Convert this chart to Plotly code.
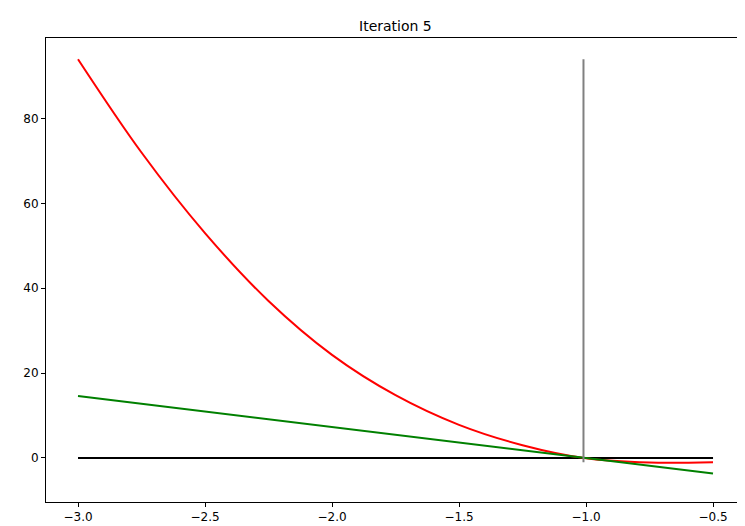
import plotly.graph_objects as go

curve_x = [-3, -2.75, -2.5, -2.25, -2, -1.75, -1.5, -1.25, -1, -0.75, -0.5]
curve_y = [94, 72, 53, 37, 24.3, 14.8, 7.8, 3.0, -0.1, -1.1, -1.0]
tangent_x = [-3, -0.5]
tangent_y = [14.6, -3.7]
axis_x = [-3, -0.5]
axis_y = [0, 0]
root_x = [-1.01, -1.01]
root_y = [-1, 94]

fig = go.Figure()
fig.add_trace(go.Scatter(x=axis_x, y=axis_y, mode="lines", line=dict(color="black", width=2)))
fig.add_trace(go.Scatter(x=curve_x, y=curve_y, mode="lines", line=dict(color="red", width=2, shape="spline", smoothing=1.0)))
fig.add_trace(go.Scatter(x=tangent_x, y=tangent_y, mode="lines", line=dict(color="green", width=2)))
fig.add_trace(go.Scatter(x=root_x, y=root_y, mode="lines", line=dict(color="gray", width=2)))

ax = dict(showgrid=False, zeroline=False, showline=True, linecolor="black", mirror=True, automargin=False,
          ticks="outside", ticklen=4, tickcolor="black", tickfont=dict(size=12, color="black"))
fig.update_layout(
    width=745, height=526, showlegend=False, plot_bgcolor="white", paper_bgcolor="white",
    font=dict(family="DejaVu Sans"),
    title=dict(text="Iteration 5", x=0.52, y=0.965, xanchor="center", yanchor="middle",
               font=dict(size=14, color="black"), automargin=False),
    margin=dict(l=38, r=10, t=30, b=32),
    xaxis=dict(range=[-3.126, -0.382], tickvals=[-3, -2.5, -2, -1.5, -1, -0.5],
               ticktext=["−3.0", "−2.5", "−2.0", "−1.5", "−1.0", "−0.5"], **ax),
    yaxis=dict(range=[-10.4, 99], tickvals=[0, 20, 40, 60, 80], **ax),
)
fig.write_html("out.html")
